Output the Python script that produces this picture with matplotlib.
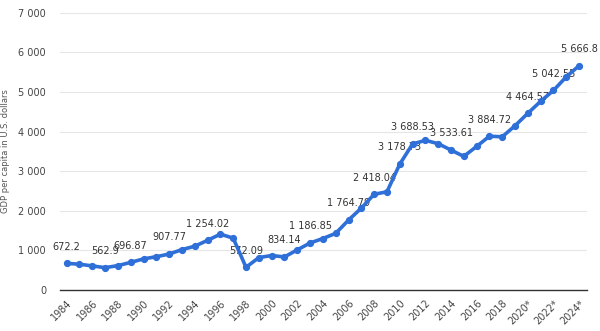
import numpy as np
import matplotlib
matplotlib.use('Agg')
import matplotlib.pyplot as plt
from matplotlib.ticker import FuncFormatter

# datos
years = list(range(1984, 2025))
gdp = [672.2, 650, 608, 562.9, 615, 696.87, 785, 840, 907.77, 1020,
       1105, 1254.02, 1410, 1309, 572.09, 818, 870, 834.14, 1013, 1186.85,
       1300, 1430, 1764.79, 2068, 2418.04, 2480, 3178.73, 3688.53, 3780, 3696,
       3533.61, 3375, 3627, 3884.72, 3870, 4150, 4464.57, 4767, 5042.55, 5385,
       5666.8]
labeled_years = [1984, 1987, 1989, 1992, 1995, 1998, 2001, 2003, 2006, 2008,
                 2010, 2011, 2014, 2017, 2020, 2022, 2024]
tick_years = list(range(1984, 2025, 2))
tick_labels = [f"{y}*" if y >= 2020 else str(y) for y in tick_years]

fig = plt.figure(figsize=(6.0, 3.31), dpi=100)
ax = fig.add_axes([0.1, 0.124, 0.878, 0.837])

ax.plot(years, gdp, color='#2f6fd8', linewidth=2.6, marker='o',
        markersize=4.2, zorder=3, solid_capstyle='round')

def fmt(v):
    s = f"{v:,.2f}".rstrip('0').rstrip('.')
    return s.replace(',', ' ')

for yr, v in zip(years, gdp):
    if yr in labeled_years:
        ax.annotate(fmt(v), (yr, v), xytext=(0, 12), textcoords='offset points',
                    ha='center', va='center', fontsize=7, color='#333333', zorder=2)

ax.set_xlim(1983.48, 2024.6)
ax.set_ylim(0, 7000)
ax.set_yticks(range(0, 7001, 1000))
ax.yaxis.set_major_formatter(FuncFormatter(lambda v, p: f"{int(v):,}".replace(',', ' ')))
ax.set_xticks(tick_years)
ax.set_xticklabels(tick_labels, rotation=45, ha='right', rotation_mode='anchor')

ax.grid(axis='y', color='#e6e6e6', linewidth=0.8)
ax.set_axisbelow(True)
for side in ['top', 'right', 'left']:
    ax.spines[side].set_visible(False)
ax.spines['bottom'].set_color('#333333')
ax.spines['bottom'].set_linewidth(1.0)
ax.tick_params(axis='both', length=0, labelsize=7, colors='#444444')
ax.tick_params(axis='x', pad=6)
ax.tick_params(axis='y', pad=10)
ax.set_ylabel("GDP per capita in U.S. dollars", fontsize=6, color='#555555', labelpad=6)

plt.savefig('out.png', dpi=100)
plt.close()
